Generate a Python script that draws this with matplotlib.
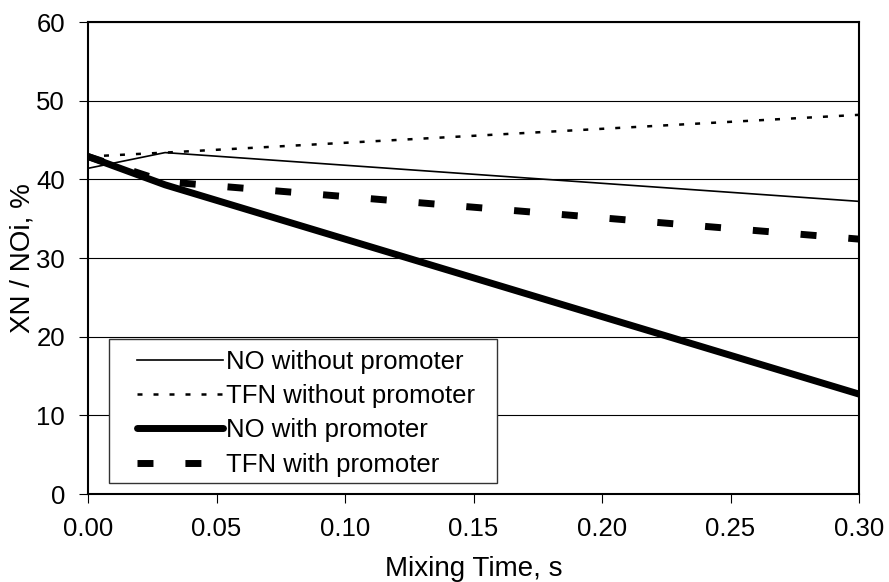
import matplotlib
matplotlib.use("Agg")
import matplotlib.pyplot as plt
from matplotlib.patches import Rectangle

plt.rcParams['font.family'] = ['Liberation Sans', 'DejaVu Sans']

mixing_time = [0.0, 0.03, 0.30]
no_without = [41.4, 43.4, 37.2]
tfn_without = [42.9, 43.4, 48.2]
no_with = [42.9, 39.3, 12.7]
tfn_with = [42.9, 39.7, 32.4]

x_ticks = [0.00, 0.05, 0.10, 0.15, 0.20, 0.25, 0.30]
y_ticks = [0, 10, 20, 30, 40, 50, 60]

W, H = 889, 582
fig = plt.figure(figsize=(W/100, H/100), dpi=100)
L, R, T, B = 88, 859, 22, 494
ax = fig.add_axes([L/W, 1-B/H, (R-L)/W, (B-T)/H])

ax.plot(mixing_time, no_without, color='black', lw=1.2, label='NO without promoter')
ax.plot(mixing_time, tfn_without, color='black', lw=1.8, linestyle=(0, (2.0, 4.4)), label='TFN without promoter')
ax.plot(mixing_time, no_with, color='black', lw=5, solid_capstyle='round', label='NO with promoter')
ax.plot(mixing_time, tfn_with, color='black', lw=5, linestyle=(0, (2.3, 4.6)), label='TFN with promoter')

ax.set_xlim(0, 0.30)
ax.set_ylim(0, 60)
ax.set_xticks(x_ticks)
ax.set_xticklabels([f"{v:.2f}" for v in x_ticks])
ax.set_yticks(y_ticks)
ax.yaxis.grid(True, color='black', lw=0.8)
ax.set_axisbelow(True)
for s in ax.spines.values():
    s.set_linewidth(1.5)
ax.tick_params(axis='both', direction='out', length=6.5, width=0.8, labelsize=18.5, colors='black')
ax.tick_params(axis='y', pad=10)
ax.tick_params(axis='x', pad=10)
ax.set_xlabel('Mixing Time, s', fontsize=20, labelpad=10.5)
ax.set_ylabel('XN / NOi, %', fontsize=20, labelpad=0.5)

# legend box
lx0, lx1, ly0, ly1 = 109, 497, 339, 483
box = Rectangle(((lx0-L)/(R-L), (B-ly1)/(B-T)), (lx1-lx0)/(R-L), (ly1-ly0)/(B-T),
                transform=ax.transAxes, facecolor='white', edgecolor='#333333', lw=1.0, zorder=5)
ax.add_patch(box)
fs = 18.5
fs_px = fs * 100 / 72
bp = 0.42
leg = ax.legend(loc='upper left', bbox_to_anchor=((137 - bp*fs_px - L)/(R-L), (B-ly0)/(B-T)),
                fontsize=fs, frameon=False, borderaxespad=0, borderpad=bp,
                handlelength=3.35, handletextpad=0.1, labelspacing=0.40)
leg.set_zorder(6)

fig.savefig('out.png', dpi=100)
